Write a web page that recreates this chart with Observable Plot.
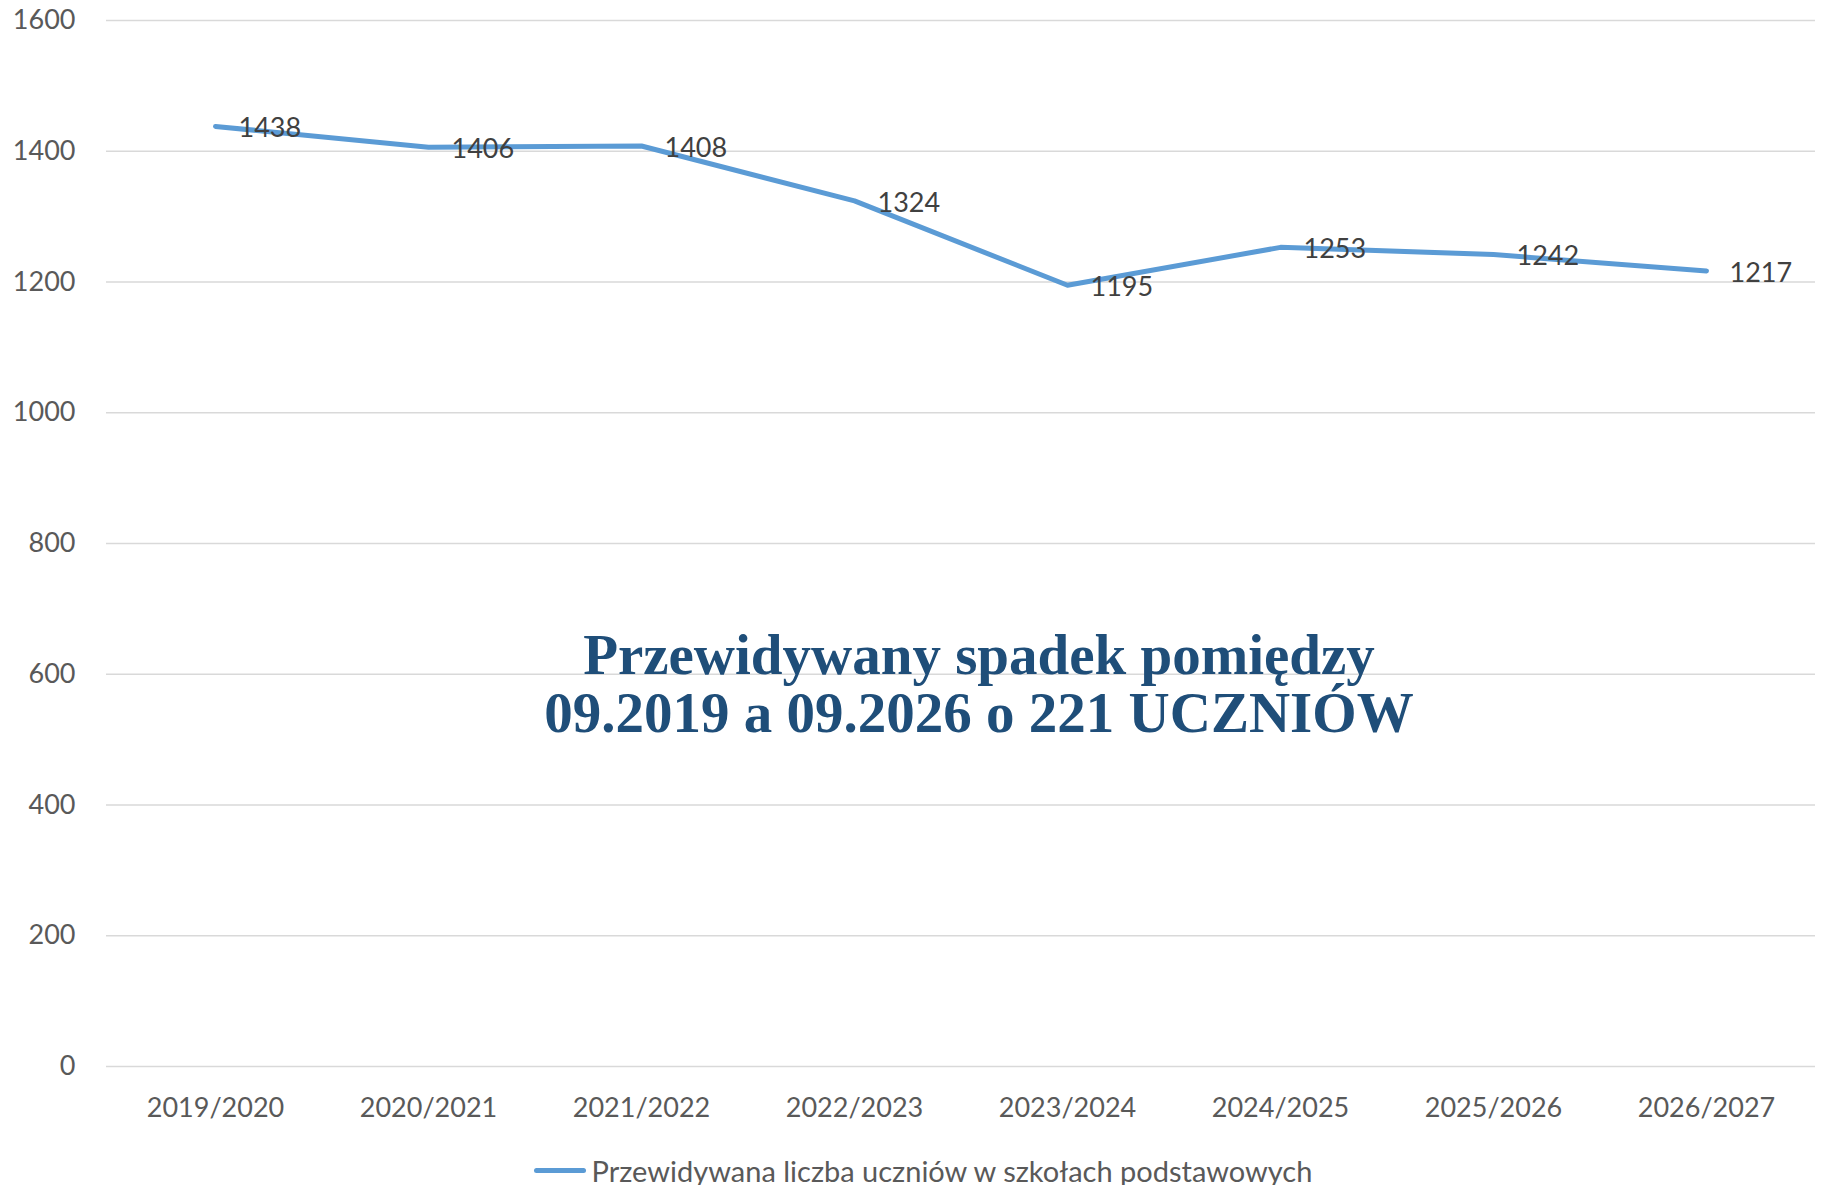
<!DOCTYPE html>
<html lang="pl">
<head>
<meta charset="utf-8">
<script src="https://cdn.jsdelivr.net/npm/d3@7"></script>
<script src="https://cdn.jsdelivr.net/npm/@observablehq/plot@0.6"></script>
<style>
  html, body { margin: 0; padding: 0; background: #fff; overflow: hidden; }
  #chart { width: 1824px; }
  #legend { height: 60px; display: flex; align-items: center; justify-content: center; padding-left: 22px;
            font-family: Lato, "Open Sans", sans-serif; font-size: 29px; color: #595959; }
  #legend .sw { display: inline-block; width: 52px; height: 5px; border-radius: 3px; background: #5B9BD5; margin-right: 6px; }
</style>
</head>
<body>
<div id="chart"></div>
<div id="legend"><span class="sw"></span><span>Przewidywana liczba uczniów w szkołach podstawowych</span></div>
<script>
const years = ["2019/2020","2020/2021","2021/2022","2022/2023","2023/2024","2024/2025","2025/2026","2026/2027"];
const students = [1438, 1406, 1408, 1324, 1195, 1253, 1242, 1217];
const yTicks = [0, 200, 400, 600, 800, 1000, 1200, 1400, 1600];
const seriesName = "Przewidywana liczba uczniów w szkołach podstawowych";
const annotation = "Przewidywany spadek pomiędzy\n09.2019 a 09.2026 o 221 UCZNIÓW";

const data = years.map((y, i) => ({year: y, value: students[i]}));

const chart = Plot.plot({
  width: 1824,
  height: 1140,
  marginLeft: 106,
  marginRight: 9,
  marginTop: 20,
  marginBottom: 74,
  style: {fontFamily: "Lato, 'Open Sans', sans-serif", background: "#fff"},
  x: {type: "point", domain: years, padding: 0.5, label: null},
  y: {domain: [0, 1600], label: null},
  marks: [
    Plot.gridY(yTicks, {stroke: "#d9d9d9", strokeOpacity: 1, strokeWidth: 1.5}),
    Plot.axisY(yTicks, {tickSize: 0, tickPadding: 31, fontSize: 27, fill: "#595959", label: null, tickFormat: d => String(d)}),
    Plot.axisX({tickSize: 0, tickPadding: 31, fontSize: 27, fill: "#595959", label: null}),
    Plot.lineY(data, {x: "year", y: "value", stroke: "#5B9BD5", strokeWidth: 5, strokeLinecap: "round", strokeLinejoin: "round"}),
    Plot.text(data, {x: "year", y: "value", text: d => String(d.value), dx: 23, dy: 2, textAnchor: "start", fontSize: 27, fill: "#404040"}),
    Plot.text([annotation], {frameAnchor: "middle", dx: 18, dy: 141, fontFamily: "'Liberation Serif', 'DejaVu Serif', serif", fontWeight: "bold", fontSize: 57, lineHeight: 1.02, fill: "#1F4E79"})
  ]
});
document.getElementById("chart").appendChild(chart);
</script>
</body>
</html>
